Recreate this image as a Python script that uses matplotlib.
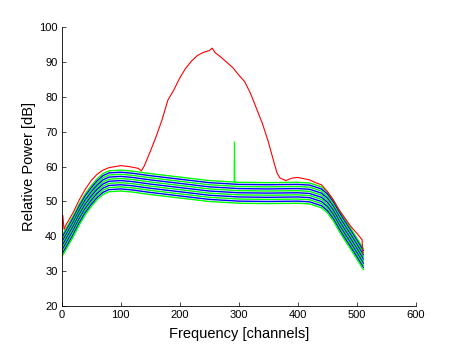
import matplotlib
matplotlib.use("Agg")
import matplotlib.pyplot as plt
import numpy as np

# max-hold trace (red)
red_ch = [0, 2, 4, 8, 15, 20, 30, 40, 50, 60, 70, 80, 90, 100, 115, 130, 135, 140,
          150, 160, 170, 180, 190, 200, 210, 220, 230, 240, 250, 255, 260, 270, 280,
          290, 300, 310, 320, 330, 340, 350, 360, 365, 370, 380, 390, 400, 420, 430,
          440, 450, 460, 470, 480, 490, 500, 509, 510]
red_db = [38.0, 46.0, 42.0, 43.5, 45.5, 47.0, 50.5, 53.5, 56.0, 57.8, 59.0, 59.7, 60.0,
          60.3, 60.0, 59.5, 58.8, 60.2, 64.3, 68.6, 73.4, 79.1, 82.0, 85.4, 88.2, 90.3,
          91.9, 92.8, 93.3, 94.0, 92.7, 91.4, 89.9, 88.4, 86.3, 84.4, 81.0, 76.7, 72.4,
          67.2, 61.0, 58.1, 56.7, 56.0, 56.7, 56.9, 56.2, 55.4, 54.8, 52.9, 50.5, 47.6,
          45.2, 42.8, 40.9, 39.0, 35.0]

# centre of the band of individual spectra
band_ch = [0, 10, 20, 30, 40, 50, 60, 70, 80, 100, 120, 150, 200, 250, 300, 350,
           400, 420, 440, 450, 460, 470, 480, 490, 500, 511]
band_db = [37.0, 40.0, 43.0, 46.3, 49.2, 51.5, 53.5, 55.0, 55.8, 56.0, 55.7, 55.0,
           54.0, 53.0, 52.5, 52.4, 52.5, 52.3, 51.2, 49.8, 47.5, 44.5, 41.8, 39.2,
           36.5, 33.5]

# offset of each spectrum from the band centre, top to bottom
offsets = [3.0, 2.4, 1.8, 1.2, 0.6, 0.0, -0.6, -1.2, -1.8, -2.4, -3.0]
colors = ["#00ff00", "#0000ff"] * 5 + ["#00ff00"]

# narrow spike seen in two of the green spectra
spike_ch = [292, 292]
spike_base = [55.5, 55.5]
spike_top = [67.5, 62.0]

plt.rcParams["font.family"] = ["Liberation Sans", "DejaVu Sans"]

fig = plt.figure(figsize=(4.6, 3.45), dpi=100)
ax = fig.add_axes([0.134, 0.113, 0.770, 0.808])

band = np.array(band_db)
for off, c in zip(offsets, colors):
    ax.plot(band_ch, band + off, color=c, lw=1.0)
ax.vlines(spike_ch, spike_base, spike_top, color="#00ff00", lw=1.0)
ax.plot(red_ch, red_db, color="#ff0000", lw=0.8)

ax.set_xlim(0, 600)
ax.set_ylim(20, 100)
ax.set_xticks(range(0, 601, 100))
ax.set_yticks(range(20, 101, 10))
ax.tick_params(direction="in", length=3, width=0.5, labelsize=8, pad=3)
for s in ("top", "right"):
    ax.spines[s].set_visible(False)
for s in ("left", "bottom"):
    ax.spines[s].set_linewidth(0.6)
ax.set_xlabel("Frequency [channels]", fontsize=10.5, labelpad=5)
ax.set_ylabel("Relative Power [dB]", fontsize=10.5, labelpad=2)

fig.savefig("out.png", dpi=100)
